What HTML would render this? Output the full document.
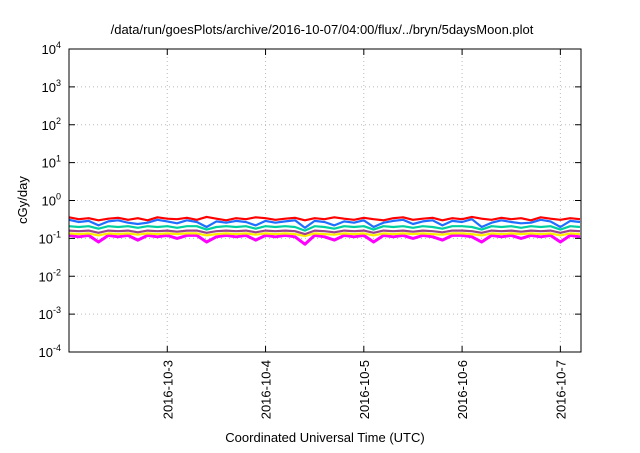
<!DOCTYPE html>
<html><head><meta charset="utf-8"><style>
body{margin:0;background:#fff;font-family:"Liberation Sans",sans-serif}
svg text{font-family:"Liberation Sans",sans-serif;fill:#000}
</style></head><body>
<svg id="c" width="640" height="448" viewBox="0 0 640 448">
<text x="322" y="34" font-size="13" text-anchor="middle">/data/run/goesPlots/archive/2016-10-07/04:00/flux/../bryn/5daysMoon.plot</text>
<text x="0" y="0" font-size="13" text-anchor="middle" transform="translate(27,200) rotate(-90)">cGy/day</text>
<text x="325" y="442" font-size="13" text-anchor="middle">Coordinated Universal Time (UTC)</text>
<g id="grid"></g><g id="series"></g><g id="axes"></g>
</svg>
<script>
const yExps=[-4,-3,-2,-1,0,1,2,3,4];
const xTickDays=[1,2,3,4,5];
const xTickLabels=["2016-10-3","2016-10-4","2016-10-5","2016-10-6","2016-10-7"];
const colors=["#ff0000","#ff00ff","#ffee00","#a04090","#00d0a0","#1e6fff"];
const red=[0.36,0.32,0.34,0.30,0.33,0.35,0.31,0.34,0.30,0.36,0.33,0.32,0.35,0.31,0.37,0.33,0.30,0.34,0.32,0.36,0.34,0.31,0.33,0.35,0.30,0.34,0.32,0.36,0.33,0.31,0.35,0.32,0.30,0.34,0.36,0.31,0.33,0.35,0.30,0.34,0.32,0.37,0.33,0.31,0.35,0.32,0.34,0.30,0.36,0.33,0.31,0.34,0.32];
const magenta=[0.12,0.11,0.12,0.08,0.12,0.11,0.12,0.09,0.12,0.11,0.12,0.10,0.12,0.12,0.08,0.11,0.12,0.11,0.12,0.09,0.12,0.11,0.12,0.11,0.07,0.12,0.11,0.09,0.12,0.11,0.12,0.08,0.12,0.11,0.12,0.10,0.12,0.11,0.09,0.12,0.12,0.11,0.08,0.12,0.11,0.12,0.10,0.12,0.11,0.12,0.08,0.12,0.11];
const yellow=[0.135,0.13,0.135,0.12,0.135,0.13,0.135,0.125,0.135,0.13,0.135,0.13,0.135,0.135,0.12,0.13,0.135,0.13,0.135,0.125,0.135,0.13,0.135,0.13,0.115,0.135,0.13,0.125,0.135,0.13,0.135,0.12,0.135,0.13,0.135,0.13,0.135,0.13,0.125,0.135,0.135,0.13,0.12,0.135,0.13,0.135,0.13,0.135,0.13,0.135,0.12,0.135,0.13];
const purple=[0.16,0.155,0.16,0.14,0.16,0.155,0.16,0.145,0.16,0.155,0.16,0.15,0.16,0.16,0.14,0.155,0.16,0.155,0.16,0.145,0.16,0.155,0.16,0.155,0.13,0.16,0.155,0.145,0.16,0.155,0.16,0.14,0.16,0.155,0.16,0.15,0.16,0.155,0.145,0.16,0.16,0.155,0.14,0.16,0.155,0.16,0.15,0.16,0.155,0.16,0.14,0.16,0.155];
const green=[0.21,0.20,0.21,0.18,0.21,0.20,0.21,0.19,0.21,0.20,0.21,0.19,0.21,0.21,0.17,0.20,0.21,0.20,0.21,0.18,0.21,0.20,0.21,0.20,0.16,0.21,0.20,0.18,0.21,0.20,0.21,0.17,0.21,0.20,0.21,0.19,0.21,0.20,0.18,0.21,0.21,0.20,0.17,0.21,0.20,0.21,0.19,0.21,0.20,0.21,0.17,0.21,0.20];
const blue=[0.31,0.27,0.29,0.22,0.28,0.30,0.26,0.24,0.26,0.31,0.28,0.25,0.30,0.27,0.20,0.28,0.26,0.29,0.27,0.22,0.29,0.26,0.28,0.30,0.19,0.29,0.27,0.22,0.28,0.26,0.30,0.20,0.26,0.29,0.31,0.24,0.28,0.30,0.22,0.29,0.27,0.32,0.20,0.26,0.30,0.27,0.25,0.26,0.31,0.28,0.20,0.29,0.27];
const seriesList=[red,magenta,yellow,purple,green,blue];
const seriesNames=["series-red","series-magenta","series-yellow","series-purple","series-green","series-blue"];
const stepDays=0.1;
const X0=69,X1=581,Y0=49,Y1=352,D0=0,D1=5.21;
const NS="http://www.w3.org/2000/svg";
const xs=d=>X0+(d-D0)/(D1-D0)*(X1-X0);
const ys=v=>Y1-(Math.log10(v)+4)/8*(Y1-Y0);
function mk(t,a,p){const e=document.createElementNS(NS,t);for(const k in a)e.setAttribute(k,a[k]);p.appendChild(e);return e;}
const grid=document.getElementById('grid'),axes=document.getElementById('axes'),sg=document.getElementById('series');
yExps.forEach(e=>{const y=ys(Math.pow(10,e));
 if(e>-4&&e<4){const l=mk('line',{x1:X0,x2:X1,y1:y,y2:y,stroke:'#bbb','stroke-dasharray':'1,3'},grid);
 
 }
 const t=mk('line',{x1:X0,x2:X0+6,y1:y,y2:y,stroke:'#000'},axes);
 
 
 mk('line',{x1:X1,x2:X1-6,y1:y,y2:y,stroke:'#000'},axes);
 const tx=mk('text',{x:X0-8,y:y+5,'font-size':13,'text-anchor':'end'},axes);
 
 
 tx.innerHTML='10<tspan dy="-6" font-size="9">'+e+'</tspan>';
});
xTickDays.forEach((d,i)=>{const x=xs(d);
 const l=mk('line',{x1:x,x2:x,y1:Y0,y2:Y1,stroke:'#bbb','stroke-dasharray':'1,3'},grid);
 
 
 mk('line',{x1:x,x2:x,y1:Y1,y2:Y1-6,stroke:'#000'},axes);
 mk('line',{x1:x,x2:x,y1:Y0,y2:Y0+6,stroke:'#000'},axes);
 const tx=mk('text',{x:0,y:0,'font-size':13,'text-anchor':'end',transform:`translate(${x+5},${Y1+8}) rotate(-90)`},axes);
 
 
 tx.textContent=xTickLabels[i];
});
const fr=mk('rect',{x:X0,y:Y0,width:X1-X0,height:Y1-Y0,fill:'none',stroke:'#000'},axes);


seriesList.forEach((s,i)=>{
 const pts=s.map((v,j)=>xs(j*stepDays).toFixed(1)+','+ys(v).toFixed(1)).join(' ');
 const p=mk('polyline',{points:pts,fill:'none',stroke:colors[i],'stroke-width':i==1?3:2.2,'stroke-linejoin':'round'},sg);
 
 
});
</script>
</body></html>
